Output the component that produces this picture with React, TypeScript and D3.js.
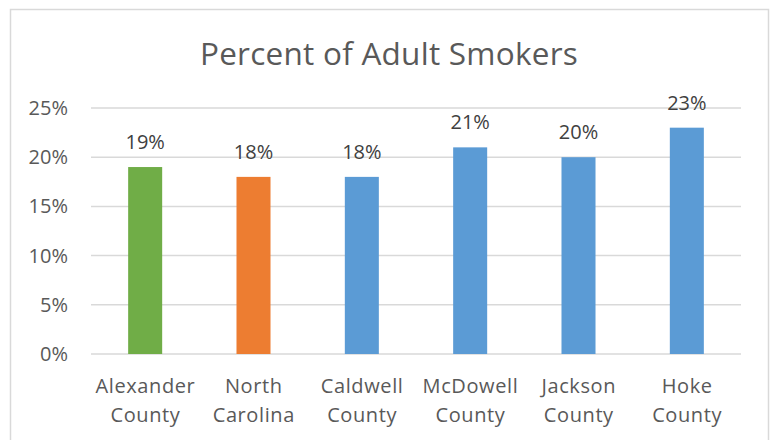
import React from "react";
import * as d3 from "d3";

const categories: string[][] = [
  ["Alexander", "County"],
  ["North", "Carolina"],
  ["Caldwell", "County"],
  ["McDowell", "County"],
  ["Jackson", "County"],
  ["Hoke", "County"],
];
const values: number[] = [0.19, 0.18, 0.18, 0.21, 0.2, 0.23];
const barColors: string[] = ["#70AD47", "#ED7D31", "#5B9BD5", "#5B9BD5", "#5B9BD5", "#5B9BD5"];
const yTicks: number[] = [0, 0.05, 0.1, 0.15, 0.2, 0.25];
const title = "Percent of Adult Smokers";

export default function App() {
  const W = 772;
  const H = 440;
  const left = 91;
  const right = 741;
  const top = 108;
  const bottom = 354;
  const font = "'Open Sans', sans-serif";

  const x = d3
    .scaleBand<number>()
    .domain(d3.range(categories.length))
    .range([left, right])
    .paddingInner(0.686)
    .paddingOuter(0.343);
  const y = d3.scaleLinear().domain([0, 0.25]).range([bottom, top]);
  const pct = d3.format(".0%");

  return (
    <svg
      width={W}
      height={H}
      style={{ position: "absolute", left: 0, top: 0, background: "#fff" }}
      fontFamily={font}
    >
      <rect x={10.5} y={9.5} width={758} height={460} fill="#fff" stroke="#d9d9d9" strokeWidth={1.5} />
      <text x={389} y={65} textAnchor="middle" fontSize={31.5} letterSpacing={0.25} fill="#595959">
        {title}
      </text>
      {yTicks.map((t) => (
        <g key={t}>
          <line x1={left} x2={right} y1={y(t)} y2={y(t)} stroke="#d9d9d9" strokeWidth={1.5} />
          <text x={68} y={y(t) + 7} textAnchor="end" fontSize={20} fill="#595959">
            {pct(t)}
          </text>
        </g>
      ))}
      {values.map((v, i) => (
        <g key={i}>
          <rect x={x(i)} y={y(v)} width={x.bandwidth()} height={y(0) - y(v)} fill={barColors[i]} />
          <text
            x={(x(i) as number) + x.bandwidth() / 2}
            y={y(v) - 18}
            textAnchor="middle"
            fontSize={20}
            fill="#404040"
          >
            {pct(v)}
          </text>
          {categories[i].map((line, j) => (
            <text
              key={j}
              x={(x(i) as number) + x.bandwidth() / 2 + 0.3}
              y={393 + j * 28.7}
              textAnchor="middle"
              fontSize={20}
              letterSpacing={0.6}
              fill="#595959"
            >
              {line}
            </text>
          ))}
        </g>
      ))}
    </svg>
  );
}
